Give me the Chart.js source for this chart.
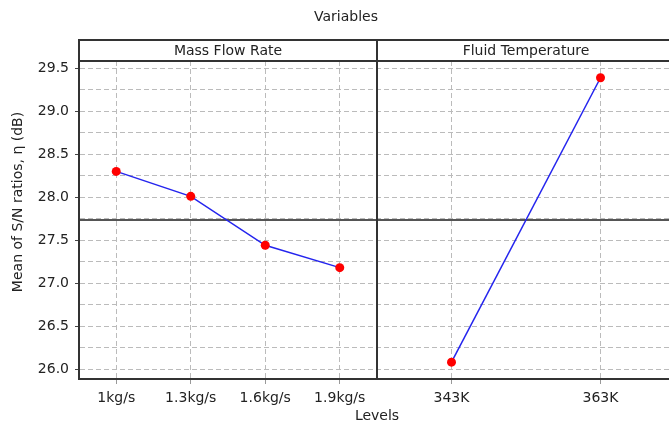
<!DOCTYPE html>
<html>
<head>
<meta charset="utf-8">
<script src="https://cdn.jsdelivr.net/npm/chart.js@4"></script>
<style>
  html, body { margin: 0; padding: 0; background: #fff; }
  #wrap { width: 669px; height: 425px; overflow: hidden; position: relative; }
  canvas { display: block; }
</style>
</head>
<body>
<div id="wrap"><canvas id="mainEffects" width="684" height="425"></canvas></div>
<script>
// factor levels and mean S/N ratios
var flowLevels = ['1kg/s', '1.3kg/s', '1.6kg/s', '1.9kg/s'];
var flowSN = [28.30, 28.01, 27.44, 27.18];
var tempLevels = ['343K', '363K'];
var tempSN = [26.08, 29.39];
var panelNames = ['Mass Flow Rate', 'Fluid Temperature'];
var yTickValues = [26.0, 26.25, 26.5, 26.75, 27.0, 27.25, 27.5, 27.75, 28.0, 28.25, 28.5, 28.75, 29.0, 29.25, 29.5];

var FONT = 'DejaVu Sans';
var TEXT = '#222';
var Y_TITLE = 'Mean of S/N ratios, η (dB)';

// each panel takes 4 units of the x axis, levels spread evenly inside it
var panels = [
    { name: panelNames[0], start: 0, end: 4, levels: flowLevels, values: flowSN },
    { name: panelNames[1], start: 4, end: 8, levels: tempLevels, values: tempSN }
];
panels.forEach(function (p) {
    var w = (p.end - p.start) / p.levels.length;
    p.xs = p.levels.map(function (l, i) { return p.start + (i + 0.5) * w; });
    p.mean = p.values.reduce(function (a, b) { return a + b; }, 0) / p.values.length;
});

var xTickPos = [];
var xTickLabels = [];
panels.forEach(function (p) {
    p.xs.forEach(function (x, i) { xTickPos.push(x); xTickLabels.push(p.levels[i]); });
});

var panelFrame = {
    id: 'panelFrame',
    beforeDatasetsDraw: function (chart) {
        var ctx = chart.ctx, x = chart.scales.x, y = chart.scales.y;
        ctx.save();
        // overall mean line in each panel
        ctx.strokeStyle = '#555';
        ctx.lineWidth = 2;
        panels.forEach(function (p) {
            var yy = Math.round(y.getPixelForValue(p.mean));
            ctx.beginPath();
            ctx.moveTo(x.getPixelForValue(p.start), yy);
            ctx.lineTo(x.getPixelForValue(p.end), yy);
            ctx.stroke();
        });
        ctx.restore();
    },
    afterDraw: function (chart) {
        var ctx = chart.ctx, a = chart.chartArea, x = chart.scales.x;
        var headTop = 40;
        ctx.save();
        ctx.fillStyle = TEXT;
        ctx.font = '14px "' + FONT + '"';
        ctx.textAlign = 'center';
        ctx.textBaseline = 'middle';
        ctx.fillText('Variables', 346, 17);

        ctx.strokeStyle = '#333';
        ctx.lineWidth = 2;
        ctx.strokeRect(a.left, headTop, a.right - a.left, a.bottom - headTop);
        ctx.beginPath();
        ctx.moveTo(a.left, a.top);
        ctx.lineTo(a.right, a.top);
        panels.slice(1).forEach(function (p) {
            var px = x.getPixelForValue(p.start);
            ctx.moveTo(px, headTop);
            ctx.lineTo(px, a.bottom);
        });
        ctx.stroke();

        panels.forEach(function (p) {
            var cx = (x.getPixelForValue(p.start) + x.getPixelForValue(p.end)) / 2;
            ctx.fillText(p.name, cx, (headTop + a.top) / 2 + 1);
        });

        // y axis title, centred on the whole figure rather than the plot area
        ctx.translate(18, 202);
        ctx.rotate(-Math.PI / 2);
        ctx.fillText(Y_TITLE, 0, 0);
        ctx.restore();
    }
};

var ctx = document.getElementById('mainEffects').getContext('2d');
var chart = new Chart(ctx, {
    type: 'line',
    data: {
        datasets: panels.map(function (p) {
            return {
                label: p.name,
                data: p.values.map(function (v, i) { return { x: p.xs[i], y: v }; }),
                borderColor: '#2424ee',
                borderWidth: 1.5,
                pointBackgroundColor: '#ff0000',
                pointBorderWidth: 0,
                pointRadius: 4.5,
                tension: 0
            };
        })
    },
    options: {
        responsive: false,
        animation: false,
        layout: { padding: { top: 61, left: 0, right: 9, bottom: 0 } },
        plugins: {
            legend: { display: false },
            tooltip: { enabled: false }
        },
        scales: {
            x: {
                type: 'linear',
                min: 0,
                max: 8,
                afterBuildTicks: function (scale) {
                    scale.ticks = xTickPos.map(function (v) { return { value: v }; });
                },
                afterFit: function (scale) { scale.height = 46; },
                ticks: {
                    color: TEXT,
                    font: { family: FONT, size: 14 },
                    padding: 6,
                    maxRotation: 0,
                    autoSkip: false,
                    callback: function (v, i) { return xTickLabels[i]; }
                },
                grid: { color: '#bbb', tickColor: '#999', tickLength: 5 },
                border: { color: '#333', width: 2, dash: [5, 3] },
                title: {
                    display: true,
                    text: 'Levels',
                    color: TEXT,
                    font: { family: FONT, size: 14 },
                    padding: { top: 0, bottom: 0 }
                }
            },
            y: {
                min: 25.884,
                max: 29.585,
                afterBuildTicks: function (scale) {
                    scale.ticks = yTickValues.map(function (v) { return { value: v }; });
                },
                afterFit: function (scale) { scale.width = 79; },
                ticks: {
                    color: TEXT,
                    font: { family: FONT, size: 14 },
                    padding: 6,
                    autoSkip: false,
                    callback: function (v) {
                        return Math.abs(v * 2 - Math.round(v * 2)) < 1e-6 ? v.toFixed(1) : '';
                    }
                },
                grid: {
                    color: '#bbb',
                    tickLength: 4,
                    tickColor: function (c) {
                        var v = c.tick ? c.tick.value : 0;
                        return Math.abs(v * 2 - Math.round(v * 2)) < 1e-6 ? '#444' : 'rgba(0,0,0,0)';
                    }
                },
                border: { color: '#333', width: 2, dash: [5, 3] }
            }
        }
    },
    plugins: [panelFrame]
});
</script>
</body>
</html>
